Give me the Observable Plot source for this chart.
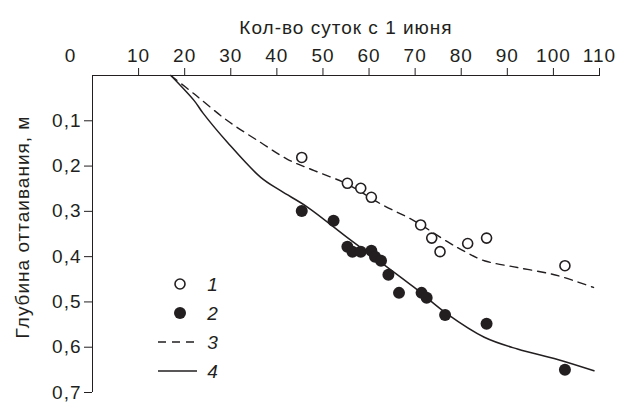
<!DOCTYPE html>
<html>
<head>
<meta charset="utf-8">
<script src="https://cdn.jsdelivr.net/npm/d3@7"></script>
<script src="https://cdn.jsdelivr.net/npm/@observablehq/plot@0.6"></script>
<style>
  html, body { margin: 0; padding: 0; background: #fff; }
</style>
</head>
<body>
<div id="chart"></div>
<script>
// ---- data ----
const xTitle = "Кол-во суток с 1 июня";
const yTitle = "Глубина оттаивания, м";
const xTicks = [10, 20, 30, 40, 50, 60, 70, 80, 90, 100, 110];
const yTicks = [0.1, 0.2, 0.3, 0.4, 0.5, 0.6, 0.7];

// 1: open circles
const openX = [45.4, 55.3, 58.2, 60.5, 71.2, 73.6, 75.4, 81.4, 85.5, 102.5];
const openY = [0.181, 0.238, 0.249, 0.269, 0.330, 0.359, 0.389, 0.371, 0.359, 0.420];
// 2: filled circles
const fillX = [45.4, 52.3, 55.3, 56.4, 58.2, 60.5, 61.3, 62.6, 64.2, 66.5, 71.4, 72.5, 76.5, 85.5, 102.5];
const fillY = [0.299, 0.321, 0.378, 0.389, 0.389, 0.387, 0.400, 0.409, 0.440, 0.480, 0.480, 0.491, 0.529, 0.548, 0.650];
// 3: dashed curve
const dashX = [17.0, 22.1, 29.3, 36.5, 42.3, 48.1, 55.3, 62.6, 69.8, 77.0, 81.0, 85.0, 92.2, 99.4, 102.3, 108.7];
const dashY = [0.000, 0.041, 0.100, 0.148, 0.185, 0.210, 0.240, 0.284, 0.321, 0.367, 0.390, 0.409, 0.424, 0.438, 0.446, 0.468];
// 4: solid curve
const solidX = [17.0, 22.1, 23.9, 29.3, 36.5, 40.9, 46.7, 55.3, 62.6, 69.8, 77.0, 85.0, 92.2, 100.9, 108.8];
const solidY = [0.000, 0.056, 0.082, 0.148, 0.225, 0.255, 0.291, 0.358, 0.413, 0.468, 0.527, 0.578, 0.604, 0.627, 0.652];

const legendLabels = ["1", "2", "3", "4"];
const legendKinds = ["open", "filled", "dashed", "solid"];

// ---- build ----
const ink = "#231f20";
const zip = (xs, ys) => xs.map((x, i) => ({x, y: ys[i]}));
const openPts = zip(openX, openY);
const fillPts = zip(fillX, fillY);
const dashPts = zip(dashX, dashY);
const solidPts = zip(solidX, solidY);
const fmt = d => d.toFixed(1).replace(".", ",");

function legendMark(index, scales, values, dims) {
  const g = d3.create("svg:g");
  const left = dims.marginLeft + 66;
  const top = dims.height - dims.marginBottom - 108;
  legendKinds.forEach((k, i) => {
    const cy = top + i * 29;
    if (k === "open") {
      g.append("circle").attr("cx", left + 22).attr("cy", cy).attr("r", 5)
        .attr("fill", "white").attr("stroke", ink).attr("stroke-width", 1.6);
    } else if (k === "filled") {
      g.append("circle").attr("cx", left + 22).attr("cy", cy).attr("r", 6).attr("fill", ink);
    } else {
      g.append("line").attr("x1", left).attr("x2", left + 39).attr("y1", cy).attr("y2", cy)
        .attr("stroke", ink).attr("stroke-width", 1.4)
        .attr("stroke-dasharray", k === "dashed" ? "8,6" : null);
    }
    g.append("text").attr("x", left + 55).attr("y", cy).attr("dy", "0.35em")
      .attr("font-style", "italic").attr("font-size", 19).attr("fill", ink)
      .text(legendLabels[i]);
  });
  return g.node();
}

const chart = Plot.plot({
  width: 628,
  height: 403,
  marginTop: 75,
  marginLeft: 92,
  marginRight: 29,
  marginBottom: 11,
  style: {fontFamily: "'Liberation Sans', Arial, sans-serif", fontSize: "19px", letterSpacing: "1px", color: ink, background: "white"},
  x: {domain: [0, 110]},
  y: {domain: [0, 0.7], reverse: true},
  marks: [
    Plot.axisX({anchor: "top", ticks: xTicks, tickSize: 8, tickPadding: 6, label: null, stroke: ink}),
    Plot.axisY({anchor: "left", ticks: yTicks, tickSize: 8, tickPadding: 3, tickFormat: fmt, label: null, stroke: ink}),
    Plot.ruleY([0], {stroke: ink, strokeWidth: 1}),
    Plot.ruleX([0], {stroke: ink, strokeWidth: 1}),
    Plot.text(["0"], {x: 0, frameAnchor: "top", dx: -22, dy: -27, fill: ink}),
    Plot.text([xTitle], {frameAnchor: "top", dy: -55, fill: ink}),
    Plot.text([yTitle], {frameAnchor: "left", textAnchor: "middle", dx: -70, dy: -7, rotate: -90, fill: ink}),
    Plot.line(dashPts, {x: "x", y: "y", stroke: ink, strokeWidth: 1.4, strokeDasharray: "8,6", curve: "catmull-rom"}),
    Plot.line(solidPts, {x: "x", y: "y", stroke: ink, strokeWidth: 1.5, curve: "catmull-rom"}),
    Plot.dot(openPts, {x: "x", y: "y", r: 5, fill: "white", stroke: ink, strokeWidth: 1.6}),
    Plot.dot(fillPts, {x: "x", y: "y", r: 6, fill: ink}),
    legendMark
  ]
});
document.getElementById("chart").appendChild(chart);
</script>
</body>
</html>
